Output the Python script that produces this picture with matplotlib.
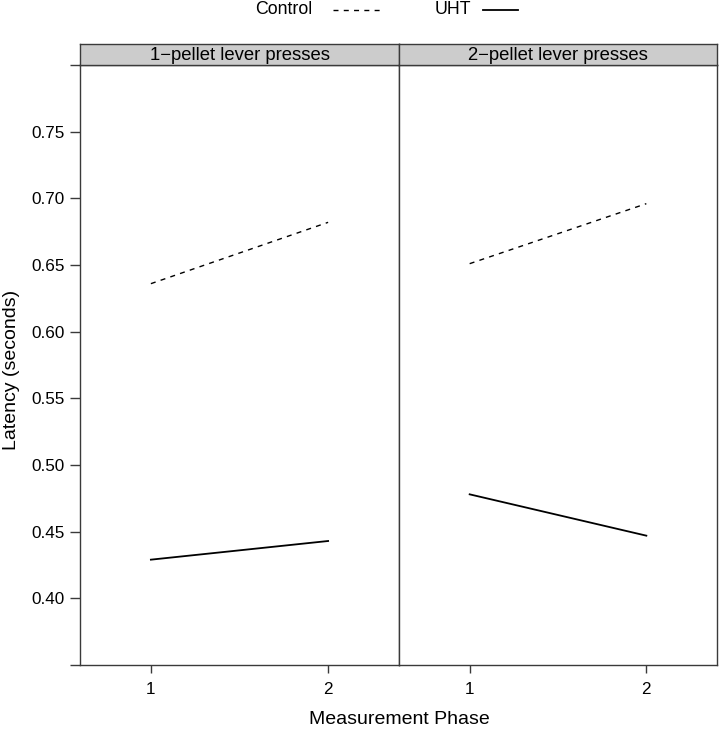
import matplotlib
matplotlib.use("Agg")
import matplotlib.pyplot as plt
from matplotlib.lines import Line2D

plt.rcParams["font.family"] = ["Liberation Sans", "DejaVu Sans"]

# data
phases = [1, 2]
panels = ["1\u2212pellet lever presses", "2\u2212pellet lever presses"]
control = [[0.636, 0.682], [0.651, 0.696]]
uht = [[0.429, 0.443], [0.478, 0.447]]
yticks = [0.35, 0.40, 0.45, 0.50, 0.55, 0.60, 0.65, 0.70, 0.75, 0.80]
ytick_labels = ["", "0.40", "0.45", "0.50", "0.55", "0.60", "0.65", "0.70", "0.75", ""]

W, H = 719, 730
fig = plt.figure(figsize=(W / 100, H / 100), dpi=100)

frame_col = "#3a3a3a"
dash = (0, (3.6, 3.8))
left_px, mid_px, right_px = 80, 399, 717
top_px, bot_px, strip_top = 65, 665, 44
strip_fs = 13.3
lab_fs = 14
tick_fs = 12.3

for i, title in enumerate(panels):
    x0 = [left_px, mid_px][i]
    x1 = [mid_px, right_px][i]
    ax = fig.add_axes([x0 / W, 1 - bot_px / H, (x1 - x0) / W, (bot_px - top_px) / H])
    ax.plot(phases, control[i], color="black", lw=1.0, linestyle=dash)
    ax.plot(phases, uht[i], color="black", lw=1.3)
    ax.set_xlim(0.6, 2.4)
    ax.set_ylim(0.35, 0.80)
    ax.set_xticks(phases)
    ax.set_xticklabels([str(p) for p in phases])
    ax.tick_params(axis="x", direction="out", length=6, width=1, color=frame_col,
                   labelsize=tick_fs, pad=6)
    if i == 0:
        ax.set_yticks(yticks)
        ax.set_yticklabels(ytick_labels)
        ax.tick_params(axis="y", direction="out", length=7, width=1, color=frame_col,
                       labelsize=tick_fs, pad=4)
    else:
        ax.set_yticks([])
    for sp in ax.spines.values():
        sp.set_color(frame_col)
        sp.set_linewidth(1.0)
        sp.set_zorder(5)

    # strip on top of panel
    sax = fig.add_axes([x0 / W, 1 - top_px / H, (x1 - x0) / W, (top_px - strip_top) / H])
    sax.set_facecolor("#cccccc")
    sax.set_xticks([])
    sax.set_yticks([])
    for sp in sax.spines.values():
        sp.set_color(frame_col)
        sp.set_linewidth(1.0)
    sax.text(0.5, 0.47, title, ha="center", va="center", fontsize=strip_fs,
             transform=sax.transAxes)

fig.text(mid_px / W, 1 - 719 / H, "Measurement Phase", ha="center", va="center", fontsize=lab_fs)
fig.text(12 / W, 1 - 370 / H, "Latency (seconds)", ha="center", va="center",
         rotation=90, fontsize=lab_fs)

# legend on top
ly = 1 - 10 / H
fig.text(284 / W, ly, "Control", ha="center", va="center", fontsize=12.8)
fig.add_artist(Line2D([333 / W, 383 / W], [ly, ly], color="black", lw=1.0,
                      linestyle=dash, transform=fig.transFigure))
fig.text(453 / W, ly, "UHT", ha="center", va="center", fontsize=12.8)
fig.add_artist(Line2D([483 / W, 518 / W], [ly, ly], color="black", lw=1.3,
                      transform=fig.transFigure))

fig.savefig("out.png", dpi=100)
